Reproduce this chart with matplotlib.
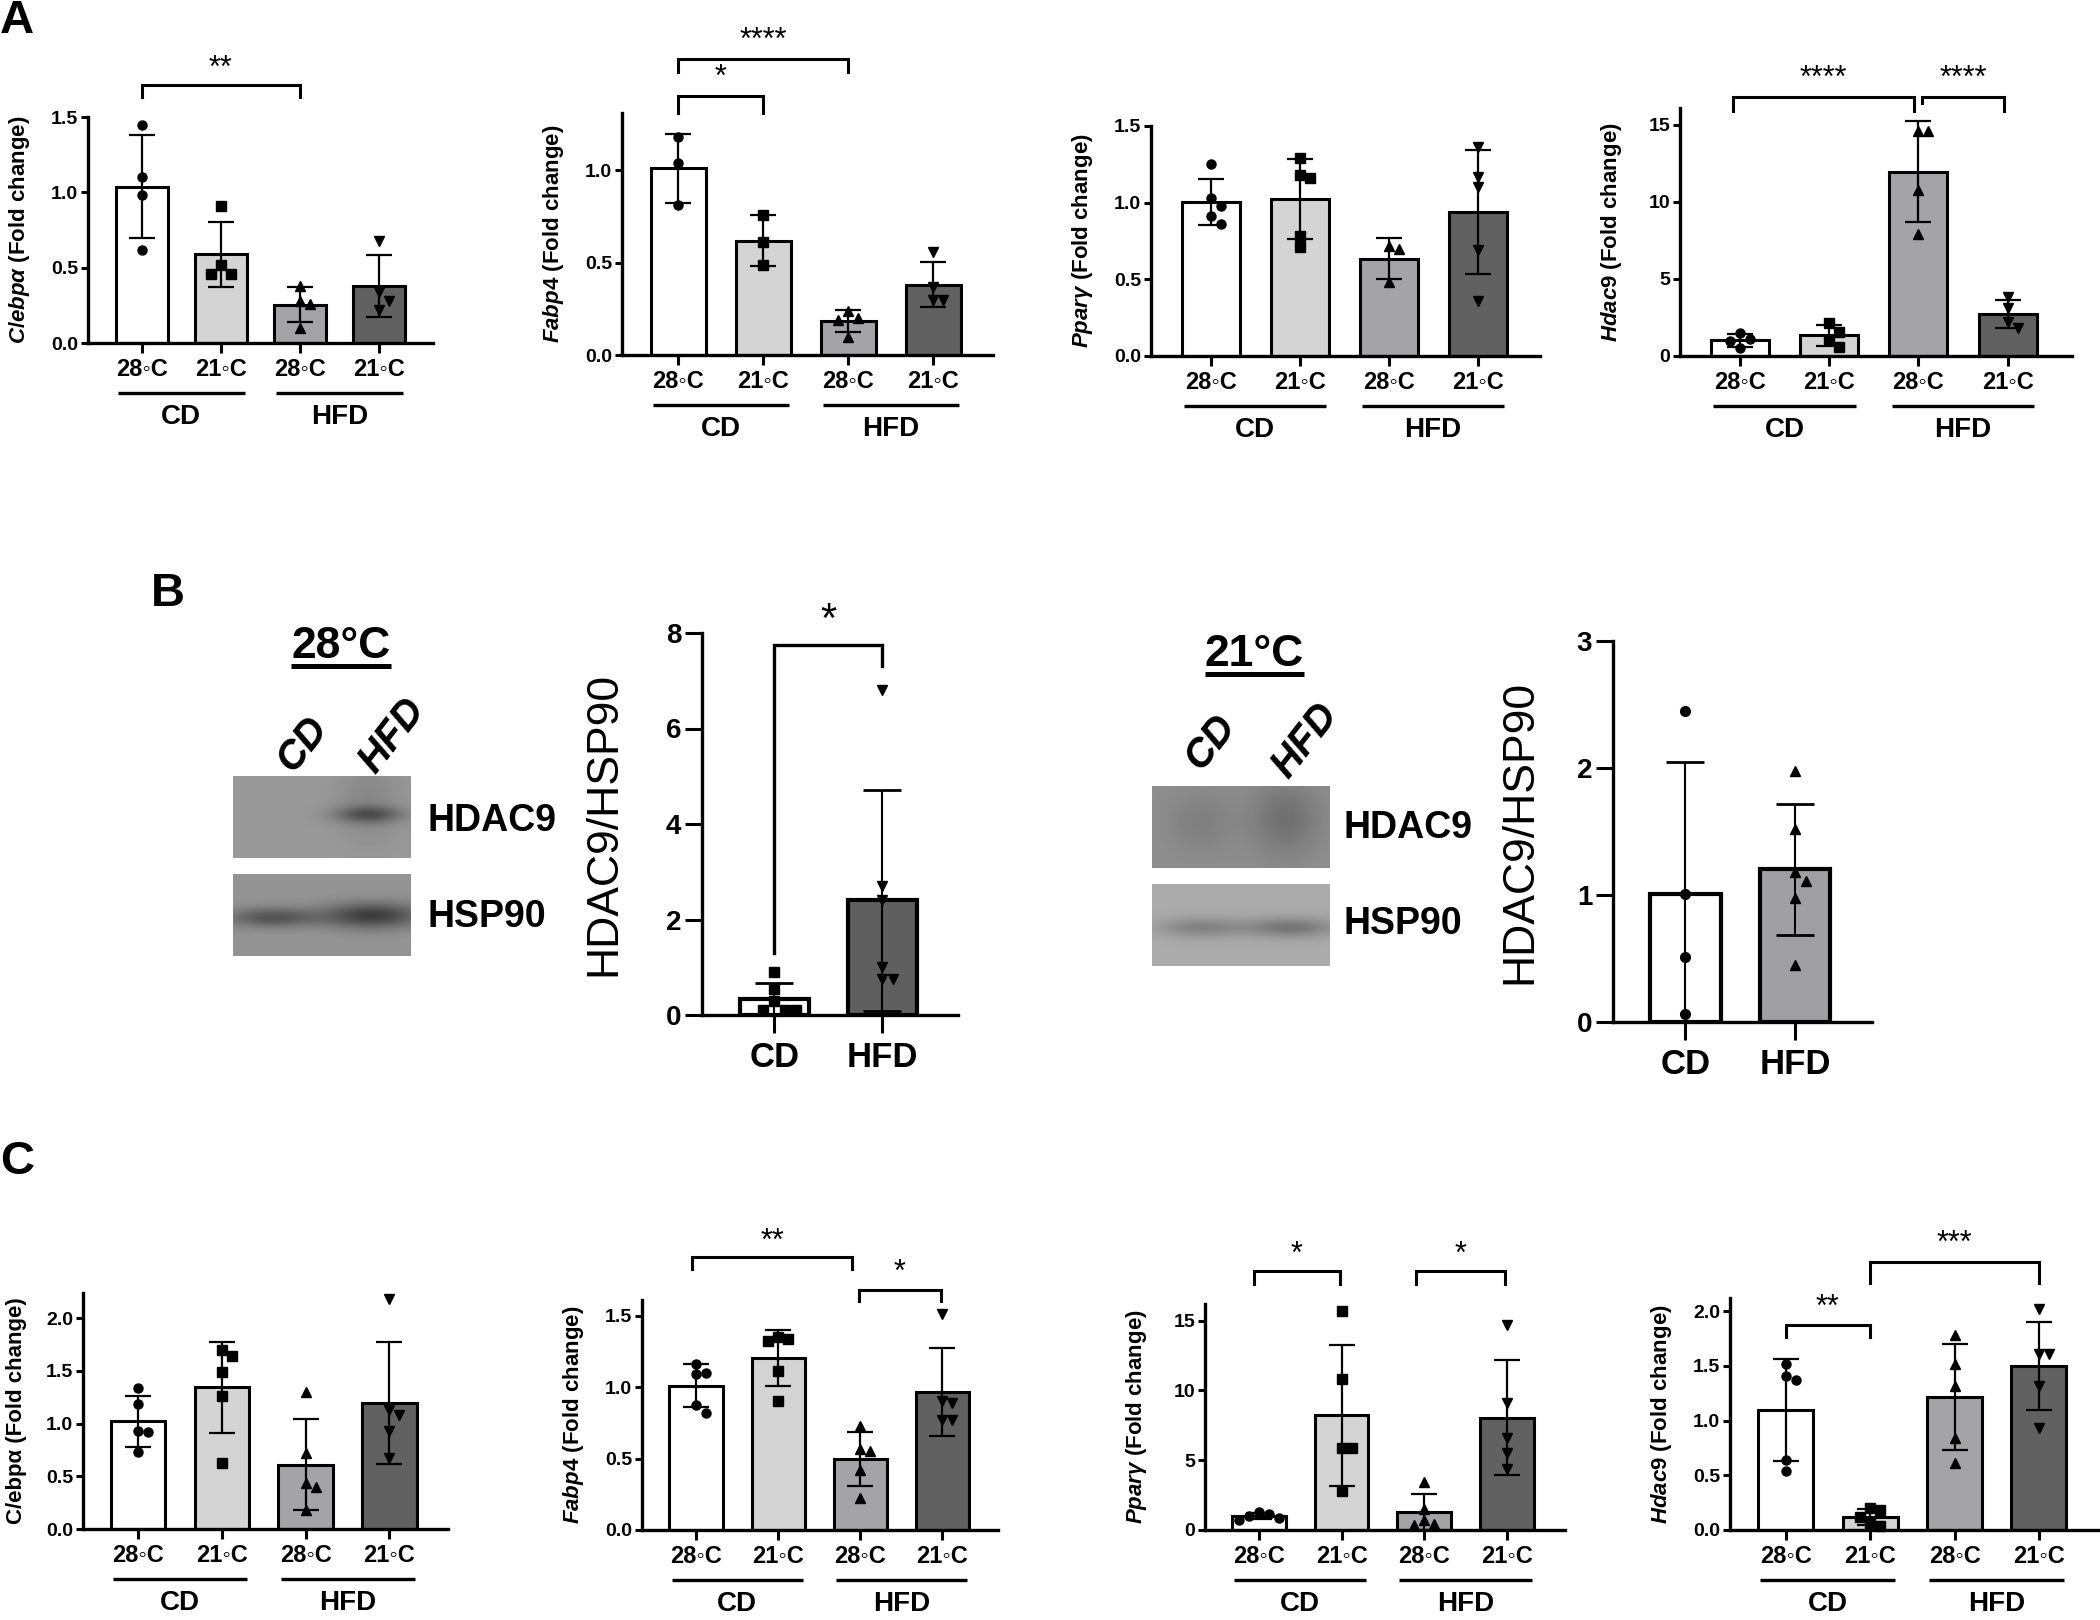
import numpy as np
import matplotlib
matplotlib.use("Agg")
import matplotlib.pyplot as plt
import matplotlib.transforms as mtransforms

plt.rcParams["font.family"] = ["Liberation Sans", "DejaVu Sans"]
plt.rcParams["font.weight"] = "bold"
plt.rcParams["axes.labelweight"] = "bold"
plt.rcParams["mathtext.fontset"] = "custom"
plt.rcParams["mathtext.it"] = "Liberation Sans:italic:bold"
plt.rcParams["mathtext.rm"] = "Liberation Sans:bold"
plt.rcParams["mathtext.bf"] = "Liberation Sans:bold"

# ---- data ----
temps = ["28◦C", "21◦C", "28◦C", "21◦C"]
diets = ["CD", "HFD"]
bar_colors = ["#ffffff", "#d4d4d4", "#a3a3a8", "#616161"]
group_markers = ["o", "s", "^", "v"]

# panel A (qPCR, 28/21 C, CD/HFD)
a_cebpa = [[1.45, 1.10, 0.98, 0.62], [0.91, 0.52, 0.46, 0.46],
           [0.38, 0.28, 0.26, 0.10], [0.68, 0.34, 0.28, 0.22]]
a_fabp4 = [[1.18, 1.04, 0.81], [0.76, 0.61, 0.485],
           [0.24, 0.20, 0.19, 0.10], [0.555, 0.37, 0.30, 0.30]]
a_pparg = [[1.25, 1.03, 0.98, 0.91, 0.86], [1.29, 1.18, 1.16, 0.78, 0.71],
           [0.72, 0.70, 0.48], [1.36, 1.17, 1.10, 0.69, 0.36]]
a_hdac9 = [[1.5, 1.1, 1.0, 0.5], [2.16, 1.58, 1.04, 0.6],
           [14.6, 14.6, 10.8, 7.9], [3.8, 3.1, 2.2, 1.8]]

# panel B (western blot quantification)
b28_cd = [0.9, 0.55, 0.3, 0.1, 0.1, 0.1]
b28_hfd = [6.8, 2.7, 2.4, 1.0, 0.75, 0.75]
b21_cd = [2.45, 1.01, 0.51, 0.06]
b21_hfd = [1.98, 1.52, 1.18, 1.11, 0.98, 0.45]

# panel C
c_cebpa = [[1.34, 1.19, 0.93, 0.92, 0.73], [1.70, 1.64, 1.49, 1.26, 0.63],
           [1.30, 0.72, 0.44, 0.40, 0.18], [2.18, 1.13, 1.08, 0.93, 0.67]]
c_fabp4 = [[1.165, 1.10, 1.09, 0.875, 0.82], [1.35, 1.34, 1.32, 1.11, 0.905],
           [0.73, 0.57, 0.55, 0.42, 0.225], [1.51, 0.90, 0.89, 0.77, 0.77]]
c_pparg = [[1.3, 1.15, 1.0, 0.85, 0.7], [15.7, 10.8, 5.9, 5.9, 2.76],
           [3.43, 1.49, 0.71, 0.40, 0.35], [14.7, 9.1, 6.6, 5.55, 4.37]]
c_hdac9 = [[1.52, 1.41, 1.37, 0.64, 0.54], [0.20, 0.18, 0.12, 0.06, 0.04],
           [1.78, 1.52, 1.32, 0.845, 0.61], [2.02, 1.61, 1.61, 1.32, 0.93]]

W, H = 2100, 1620
fig = plt.figure(figsize=(21, 16.2), dpi=100)
bg = fig.add_axes([0, 0, 1, 1])
bg.axis("off")


def px_rect(l, t, r, b):
    return [l / W, 1 - b / H, (r - l) / W, (b - t) / H]


def swarm(ax, x0, vals, marker, ms, step=10):
    placed = []
    for v in sorted(vals, reverse=True):
        px, py = ax.transData.transform((x0, v))
        cands = [0]
        for i in range(1, 8):
            cands += [i, -i]
        for c in cands:
            cx = px + c * step
            if all((cx - qx) ** 2 + (py - qy) ** 2 >= step ** 2 for qx, qy in placed):
                break
        placed.append((cx, py))
    pts = ax.transData.inverted().transform(np.array(placed))
    ax.plot(pts[:, 0], pts[:, 1], ls="none", marker=marker, ms=ms, color="k",
            zorder=4, clip_on=False)


def bracket(ax, x1, x2, y, yl, yr, label, ty, fs=22, lw=2.2):
    ax.plot([x1, x1, x2, x2], [yl, y, y, yr], color="k", lw=lw, clip_on=False,
            solid_joinstyle="miter")
    ax.text((x1 + x2) / 2, ty, label, ha="center", va="center", fontsize=fs,
            fontweight="normal", clip_on=False)


def qpcr_panel(box, xlim, ylim, yticks, yfmt, groups, ylabel, brackets):
    ax = fig.add_axes(px_rect(*box))
    x = np.arange(4)
    means = [np.mean(g) for g in groups]
    sds = [np.std(g, ddof=1) for g in groups]
    ax.set_xlim(*xlim)
    ax.set_ylim(*ylim)
    ax.bar(x, means, width=0.65, color=bar_colors, edgecolor="k", linewidth=2.2, zorder=2)
    ax.errorbar(x, means, yerr=sds, fmt="none", ecolor="k", elinewidth=1.6,
                capsize=9.5, capthick=1.6, zorder=3)
    for i, g in enumerate(groups):
        swarm(ax, x[i], g, group_markers[i], 6.5)
    for s in ["top", "right"]:
        ax.spines[s].set_visible(False)
    for s in ["left", "bottom"]:
        ax.spines[s].set_linewidth(2.4)
    ax.set_yticks(yticks)
    ax.set_yticklabels([yfmt.format(t) for t in yticks])
    ax.set_xticks(x)
    ax.set_xticklabels(temps)
    ax.tick_params(axis="x", length=7, width=2.2, pad=4, labelsize=17)
    ax.tick_params(axis="y", length=5, width=2.2, pad=2, labelsize=14)
    ax.set_ylabel(ylabel, fontsize=16, fontweight="bold")
    ax.yaxis.set_label_coords(-56 / (box[2] - box[0]), 0.5)
    blend = mtransforms.blended_transform_factory(ax.transData, ax.transAxes)
    tline = blend + mtransforms.ScaledTranslation(0, -36 / 72, fig.dpi_scale_trans)
    ttext = blend + mtransforms.ScaledTranslation(0, -53 / 72, fig.dpi_scale_trans)
    for k, d in enumerate(diets):
        a, b = 2 * k, 2 * k + 1
        ax.plot([a - 0.3, b + 0.3], [0, 0], color="k", lw=2.4, transform=tline,
                clip_on=False, solid_capstyle="butt")
        ax.text((a + b) / 2, 0, d, transform=ttext, ha="center", va="center", fontsize=20)
    for br in brackets:
        bracket(ax, *br)
    return ax


def wb_panel(box, xlim, ylim, yticks, cd, hfd, markers, colors, label_dx, brackets):
    ax = fig.add_axes(px_rect(*box))
    x = np.arange(2)
    groups = [cd, hfd]
    means = [np.mean(g) for g in groups]
    sds = [np.std(g, ddof=1) for g in groups]
    ax.set_xlim(*xlim)
    ax.set_ylim(*ylim)
    ax.bar(x, means, width=0.64, color=colors, edgecolor="k", linewidth=3, zorder=2)
    ax.errorbar(x, means, yerr=sds, fmt="none", ecolor="k", elinewidth=1.5,
                capsize=14, capthick=2, zorder=3)
    for i, g in enumerate(groups):
        swarm(ax, x[i], g, markers[i], 7, step=11)
    for s in ["top", "right"]:
        ax.spines[s].set_visible(False)
    for s in ["left", "bottom"]:
        ax.spines[s].set_linewidth(2.4)
    ax.set_yticks(yticks)
    ax.set_xticks(x)
    ax.set_xticklabels(diets)
    ax.tick_params(axis="x", length=13, width=2.2, pad=6, labelsize=25)
    ax.tick_params(axis="y", length=12, width=2.2, pad=3, labelsize=20)
    ax.set_ylabel("HDAC9/HSP90", fontsize=32, fontweight="normal")
    ax.yaxis.set_label_coords(label_dx / (box[2] - box[0]), 0.5)
    for br in brackets:
        bracket(ax, *br, lw=2.4)
    return ax


# ---- panel A ----
qpcr_panel((88, 117, 433, 343), (-0.68, 3.68), (0, 1.5), [0, 0.5, 1.0, 1.5], "{:.1f}",
           a_cebpa, r"$\mathit{C}$/$\mathit{ebpα}$ (Fold change)",
           [(0, 2, 1.71, 1.63, 1.63, "**", 1.82)])
qpcr_panel((622, 113, 993, 355), (-0.66, 3.70), (0, 1.31), [0, 0.5, 1.0], "{:.1f}",
           a_fabp4, r"$\mathit{Fabp4}$ (Fold change)",
           [(0, 1, 1.40, 1.31, 1.31, "*", 1.50), (0, 2, 1.60, 1.53, 1.53, "****", 1.70)])
qpcr_panel((1151, 126, 1540, 356), (-0.67, 3.70), (0, 1.5), [0, 0.5, 1.0, 1.5], "{:.1f}",
           a_pparg, r"$\mathit{Ppar}γ$ (Fold change)", [])
qpcr_panel((1680, 108, 2072, 356), (-0.67, 3.72), (0, 16.1), [0, 5, 10, 15], "{:d}",
           a_hdac9, r"$\mathit{Hdac9}$ (Fold change)",
           [(-0.08, 1.95, 16.8, 15.9, 15.9, "****", 18.0),
            (2.04, 2.96, 16.8, 16.4, 15.9, "****", 18.0)])

# ---- panel B ----
wb_panel((702, 633, 958, 1015), (-0.67, 1.70), (0, 8), [0, 2, 4, 6, 8],
         b28_cd, b28_hfd, ["s", "v"], ["#ffffff", "#5f5f5f"], -78,
         [(0, 1, 7.74, 1.3, 7.3, "*", 8.25, 30)])
wb_panel((1613, 641, 1872, 1022), (-0.66, 1.70), (0, 3), [0, 1, 2, 3],
         b21_cd, b21_hfd, ["o", "^"], ["#ffffff", "#a0a0a4"], -73, [])

# ---- panel C ----
qpcr_panel((83, 1293, 448, 1529), (-0.66, 3.70), (0, 2.24), [0, 0.5, 1.0, 1.5, 2.0], "{:.1f}",
           c_cebpa, "C/ebpα (Fold change)", [])
qpcr_panel((642, 1300, 998, 1530), (-0.66, 3.68), (0, 1.61), [0, 0.5, 1.0, 1.5], "{:.1f}",
           c_fabp4, r"$\mathit{Fabp4}$ (Fold change)",
           [(-0.05, 1.9, 1.91, 1.83, 1.83, "**", 2.02), (1.98, 2.98, 1.68, 1.60, 1.60, "*", 1.80)])
qpcr_panel((1205, 1304, 1565, 1530), (-0.65, 3.70), (0, 16.2), [0, 5, 10, 15], "{:d}",
           c_pparg, r"$\mathit{Ppar}γ$ (Fold change)",
           [(-0.06, 0.98, 18.6, 17.6, 17.6, "*", 19.7), (1.9, 2.97, 18.6, 17.6, 17.6, "*", 19.7)])
qpcr_panel((1730, 1298, 2098, 1530), (-0.66, 3.70), (0, 2.12), [0, 0.5, 1.0, 1.5, 2.0], "{:.1f}",
           c_hdac9, r"$\mathit{Hdac9}$ (Fold change)",
           [(0, 1, 1.87, 1.76, 1.76, "**", 2.03), (1, 3, 2.45, 2.26, 2.26, "***", 2.61)])


# ---- blots and annotations (pixel space) ----
def blot(x0, y0, x1, y1, level, bands):
    yy, xx = np.mgrid[y0:y1, x0:x1].astype(float)
    img = np.full(xx.shape, level)
    for cx, cy, sx, sy, depth in bands:
        img -= depth * np.exp(-((xx - cx) ** 2 / (2 * sx ** 2) + (yy - cy) ** 2 / (2 * sy ** 2)))
    bg.imshow(img, cmap="gray", vmin=0, vmax=1, extent=(x0, x1, y1, y0),
              aspect="auto", interpolation="bilinear")


blot(233, 776, 411, 858, 0.60, [(368, 814, 24, 6, 0.25), (368, 800, 22, 28, 0.07)])
blot(233, 874, 411, 956, 0.58, [(272, 917, 32, 7, 0.25), (372, 915, 34, 9, 0.34)])
blot(1152, 786, 1330, 868, 0.56, [(1200, 822, 24, 22, 0.06), (1285, 818, 24, 26, 0.12)])
blot(1152, 884, 1330, 966, 0.67, [(1200, 927, 30, 7, 0.16), (1290, 927, 32, 7, 0.21)])
bg.set_xlim(0, W)
bg.set_ylim(H, 0)

for x, y, s in [(428, 821, "HDAC9"), (428, 917, "HSP90"), (1343, 828, "HDAC9"), (1343, 924, "HSP90")]:
    bg.text(x, y, s, ha="left", va="center", fontsize=27)
for x, y, s in [(302, 744, "CD"), (392, 736, "HFD"), (1210, 742, "CD"), (1305, 741, "HFD")]:
    bg.text(x, y, s, ha="center", va="center", fontsize=29, style="italic", rotation=52)
for x, y, s, x0, x1, yl in [(341, 646, "28°C", 291, 391, 666), (1254, 655, "21°C", 1205, 1304, 674)]:
    bg.text(x, y, s, ha="center", va="center", fontsize=32)
    bg.plot([x0, x1], [yl, yl], color="k", lw=3.6, solid_capstyle="butt")

for x, y, s in [(17, 21, "A"), (168, 594, "B"), (17, 1162, "C")]:
    bg.text(x, y, s, ha="center", va="center", fontsize=34)

fig.savefig("out.png", dpi=100)
